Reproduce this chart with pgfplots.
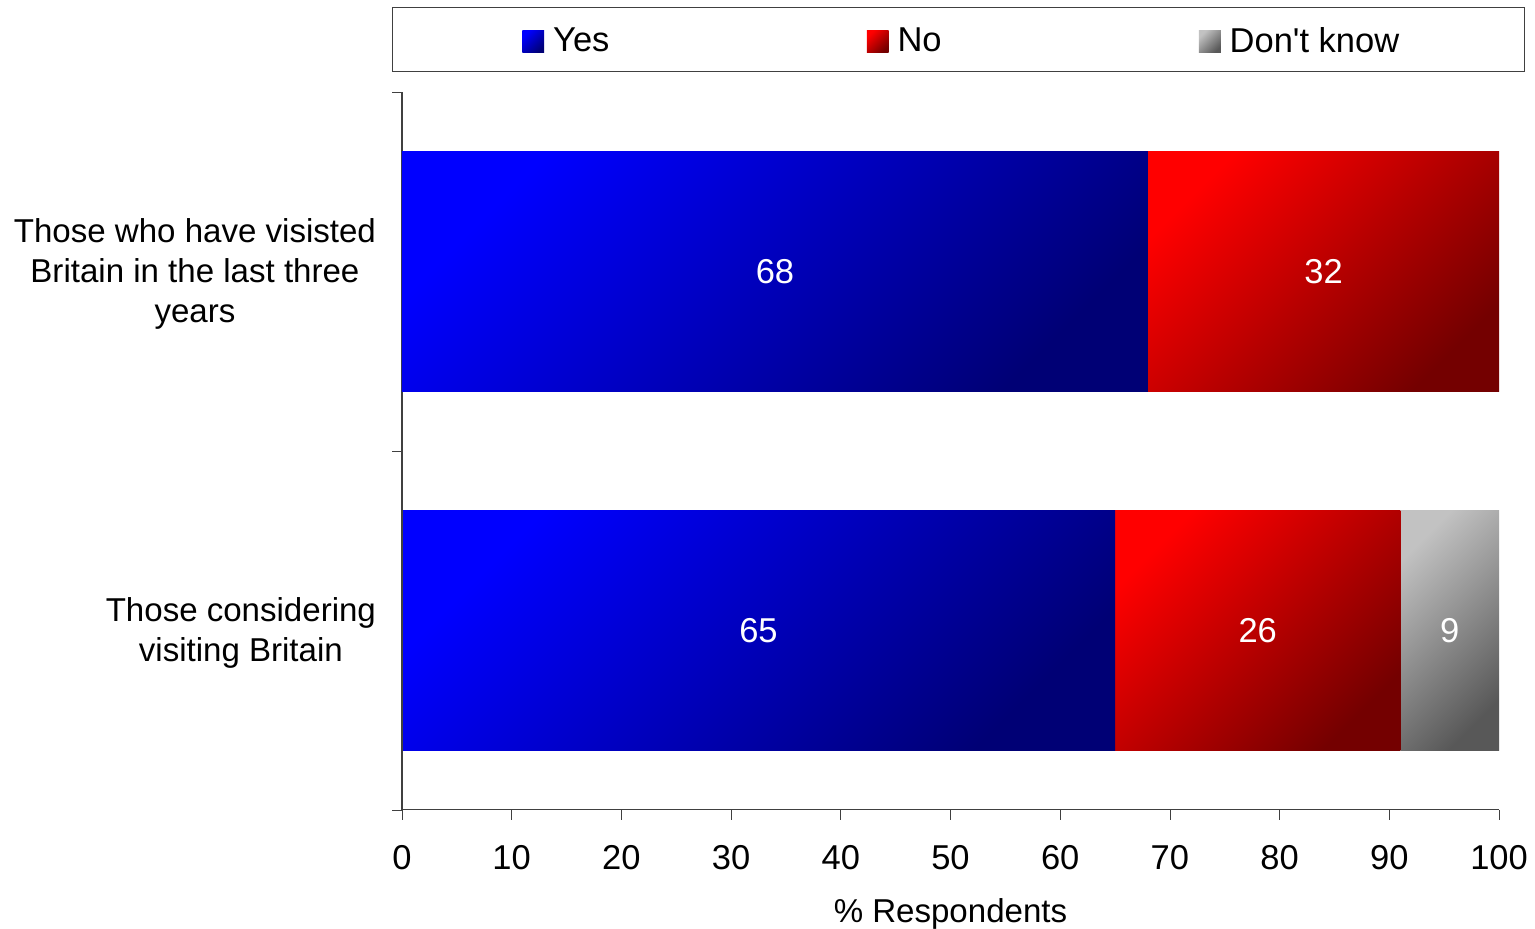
\documentclass[border=0pt]{standalone}
\usepackage{pgfplots}
\pgfplotsset{compat=1.18}
\usepackage{fontspec}
\setmainfont{Liberation Sans}
\definecolor{yesA}{HTML}{0000FF}
\definecolor{yesB}{HTML}{000075}
\definecolor{noA}{HTML}{FF0000}
\definecolor{noB}{HTML}{740000}
\definecolor{dkA}{HTML}{C2C2C2}
\definecolor{dkB}{HTML}{585858}
\definecolor{axgray}{HTML}{404040}
\pgfplotsset{
  common/.style={scale only axis, width=381.6pt, height=249.7pt,
    xbar stacked, bar width=0.668,
    xmin=0, xmax=100, ymin=-0.5, ymax=1.5},
  yesstyle/.style={draw=none, top color=yesA, bottom color=yesB, shading angle=45},
  nostyle/.style={draw=none, top color=noA, bottom color=noB, shading angle=45},
  dkstyle/.style={draw=none, top color=dkA, bottom color=dkB, shading angle=45},
}
\begin{document}
\begin{tikzpicture}[font=\fontsize{12}{14}\selectfont]
% bottom category: Those considering visiting Britain
\begin{axis}[common, hide axis]
\addplot[yesstyle] coordinates {(65,0)};
\addplot[nostyle] coordinates {(26,0)};
\addplot[dkstyle] coordinates {(9,0)};
\coordinate (c65) at (axis cs:32.5,0);
\coordinate (c26) at (axis cs:78,0);
\coordinate (c9) at (axis cs:95.5,0);
\end{axis}
% top category and all decorations
\begin{axis}[common,
  xtick={0,10,...,100},
  ytick={0,1},
  yticklabels={{Those considering\\visiting Britain},{Those who have visisted\\Britain in the last three\\years}},
  yticklabel style={align=center, xshift=-2pt, yshift=-0.9pt, font=\fontsize{11.5}{14}\selectfont},
  xticklabel style={yshift=-5.2pt},
  xlabel style={yshift=-3.4pt, font=\fontsize{11.5}{14}\selectfont},
  minor ytick={-0.5,0.5,1.5},
  axis x line=bottom, axis y line=left,
  axis line style={-, draw=axgray},
  tick align=outside,
  major tick length=3.5pt, minor tick length=3.3pt,
  tick style={draw=axgray},
  major y tick style={draw=none},
  /pgf/number format/assume math mode=true,
  xlabel={\% Respondents},
  legend columns=3,
  legend style={at={(axis description cs:0,1)}, anchor=north west,
    xshift=-3.5pt, yshift=29.6pt, draw=axgray, inner xsep=41.5pt, inner ysep=4.85pt,
    nodes={text depth=0pt},
    /tikz/every odd column/.append style={column sep=1.1pt},
    /tikz/every even column/.append style={column sep=83.8pt}},
  legend image code/.code={\path (0pt,0pt); \path[#1,draw=none] (3.7pt,-4.5pt) rectangle (11.3pt,3.1pt);},
]
\addplot[yesstyle] coordinates {(68,1)};
\addplot[nostyle] coordinates {(32,1)};
\addlegendimage{dkstyle}
\legend{Yes,No,Don\textquotesingle t know}
\coordinate (c68) at (axis cs:34,1);
\coordinate (c32) at (axis cs:84,1);
\end{axis}
\node[white] at (c68) {68};
\node[white] at (c32) {32};
\node[white] at (c65) {65};
\node[white] at (c26) {26};
\node[white] at (c9) {9};
\pgfresetboundingbox
\path[use as bounding box] (-139.8pt,-41.4pt) rectangle (394.1pt,281.7pt);
\end{tikzpicture}
\end{document}
